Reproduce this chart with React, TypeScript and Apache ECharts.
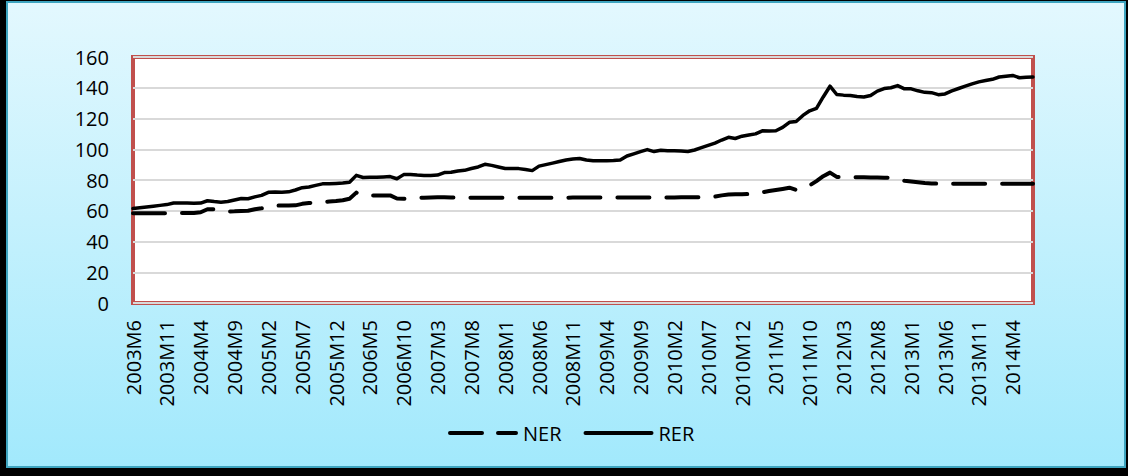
import { useEffect, useRef } from 'react';
import * as echarts from 'echarts';

// monthly series, 2003M6 .. 2014M7
const START_YEAR = 2003;
const START_MONTH = 6;

const rer = [
  61.5, 62, 62.5, 63, 63.5, 64, 65, 65, 65, 64.8,
  65, 66.5, 66, 65.6, 66, 67, 68, 67.8, 69, 70,
  72, 72.2, 72, 72.3, 73.5, 75, 75.5, 76.5, 77.5, 77.5,
  77.8, 78, 78.5, 83, 81.6, 81.8, 81.8, 82, 82.2, 80.8,
  83.5, 83.5, 83.2, 83, 83, 83.2, 84.8, 85, 85.8, 86.3,
  87.5, 88.5, 90.2, 89.5, 88.5, 87.5, 87.5, 87.4, 86.8, 86.1,
  89, 90, 91, 92, 93, 93.6, 94, 93, 92.5, 92.5,
  92.6, 92.7, 93, 95.6, 97, 98.5, 99.8, 98.5, 99.3, 99,
  99, 98.8, 98.5, 99.5, 101, 102.5, 104, 106, 107.8, 107,
  108.5, 109.3, 110, 112, 111.8, 112, 114.2, 117.5, 118, 122,
  125, 126.6, 134, 141, 135.6, 135.2, 134.9, 134.3, 134, 135,
  137.8, 139.5, 140, 141.4, 139.3, 139.3, 138, 137, 136.8, 135.5,
  136, 138, 139.5, 141, 142.5, 143.8, 144.7, 145.5, 147, 147.5,
  148, 146.5, 146.9, 147,
];

const ner = [
  58.3, 58.3, 58.3, 58.3, 58.3, 58.3, 58.4, 58.5, 58.5, 58.6,
  59, 61, 61, 60, 59.5, 59.6, 59.8, 60, 61, 61.6,
  62.5, 63.3, 63.4, 63.4, 63.5, 64.5, 65, 65.5, 65.6, 66,
  66.3, 66.8, 67.8, 71.8, 70, 70, 70, 70, 70, 68,
  67.8, 68, 68.4, 68.5, 68.6, 68.7, 68.7, 68.6, 68.6, 68.5,
  68.5, 68.5, 68.5, 68.4, 68.4, 68.4, 68.4, 68.4, 68.4, 68.4,
  68.4, 68.4, 68.5, 68.5, 68.5, 68.6, 68.6, 68.6, 68.6, 68.6,
  68.6, 68.6, 68.6, 68.6, 68.6, 68.6, 68.6, 68.6, 68.6, 68.6,
  68.6, 68.7, 68.7, 68.7, 68.8, 68.9, 69.2, 70, 70.5, 70.8,
  70.7, 70.9, 71.3, 72, 72.8, 73.5, 74.2, 75, 73.5, 75,
  76.5, 79.3, 82.5, 84.8, 82, 82, 82, 81.8, 81.8, 81.7,
  81.6, 81.5, 81.4, 80.5, 79.5, 79, 78.5, 78, 77.8, 77.6,
  77.6, 77.6, 77.6, 77.6, 77.6, 77.6, 77.6, 77.6, 77.6, 77.6,
  77.6, 77.6, 77.6, 77.6,
];

const months: string[] = [];
for (let i = 0; i < rer.length; i++) {
  const m = START_MONTH - 1 + i;
  months.push(`${START_YEAR + Math.floor(m / 12)}M${(m % 12) + 1}`);
}

const FONT = '"Open Sans", sans-serif';

// legend keys drawn as plain paths so the dash shows like the original
const DASH_ICON = 'path://M2,0H34A2,2 0 0 1 34,4H2A2,2 0 0 1 2,0Z M50,0H68A2,2 0 0 1 68,4H50A2,2 0 0 1 50,0Z';
const SOLID_ICON = 'path://M2,0H68A2,2 0 0 1 68,4H2A2,2 0 0 1 2,0Z';

function App() {
  const chartRef = useRef<HTMLDivElement>(null);

  useEffect(() => {
    if (!chartRef.current) return;
    document.body.style.margin = '0';
    const chart = echarts.init(chartRef.current, null, { renderer: 'svg' });

    const option: any = {
      animation: false,
      textStyle: { fontFamily: FONT },
      grid: {
        left: 133,
        right: 95,
        top: 57,
        bottom: 173,
        show: true,
        backgroundColor: '#ffffff',
        borderColor: '#c0504d',
        borderWidth: 4,
      },
      legend: {
        left: 443,
        top: 418,
        itemWidth: 70,
        itemHeight: 4,
        itemGap: 22,
        textStyle: { fontSize: 20, color: '#000', fontFamily: FONT },
        data: [
          { name: 'NER', icon: DASH_ICON, itemStyle: { color: '#000' } },
          { name: 'RER', icon: SOLID_ICON, itemStyle: { color: '#000' } },
        ],
      },
      xAxis: {
        type: 'category',
        data: months,
        boundaryGap: false,
        axisLine: { show: false },
        axisTick: { show: false },
        axisLabel: {
          interval: 4,
          rotate: 90,
          margin: 17,
          fontSize: 20,
          color: '#000',
          fontFamily: FONT,
        },
        splitLine: { show: false },
      },
      yAxis: {
        type: 'value',
        min: 0,
        max: 160,
        interval: 20,
        axisLine: { show: false },
        axisTick: { show: false },
        axisLabel: { fontSize: 20, color: '#000', margin: 24, fontFamily: FONT },
        splitLine: { lineStyle: { color: '#d9d9d9', width: 2 } },
      },
      series: [
        {
          name: 'NER',
          type: 'line',
          data: ner,
          symbol: 'none',
          lineStyle: { color: '#000', width: 4, type: [32, 17], cap: 'round', join: 'round' },
          itemStyle: { color: '#000' },
        },
        {
          name: 'RER',
          type: 'line',
          data: rer,
          symbol: 'none',
          lineStyle: { color: '#000', width: 3.5, cap: 'round', join: 'round' },
          itemStyle: { color: '#000' },
        },
      ],
    };

    chart.setOption(option);
    return () => {
      chart.dispose();
    };
  }, []);

  return (
    <div style={{ position: 'absolute', left: 0, top: 0, width: 1128, height: 476, background: '#000' }}>
      <div
        style={{
          position: 'absolute',
          left: 6,
          top: 1,
          width: 1116,
          height: 463,
          border: '2px solid #3ea4bf',
          background: 'linear-gradient(to bottom, #e3f8fe 0%, #a2e9fc 100%)',
        }}
      />
      <div ref={chartRef} style={{ position: 'absolute', left: 0, top: 0, width: 1128, height: 476 }} />
    </div>
  );
}

export default App;
